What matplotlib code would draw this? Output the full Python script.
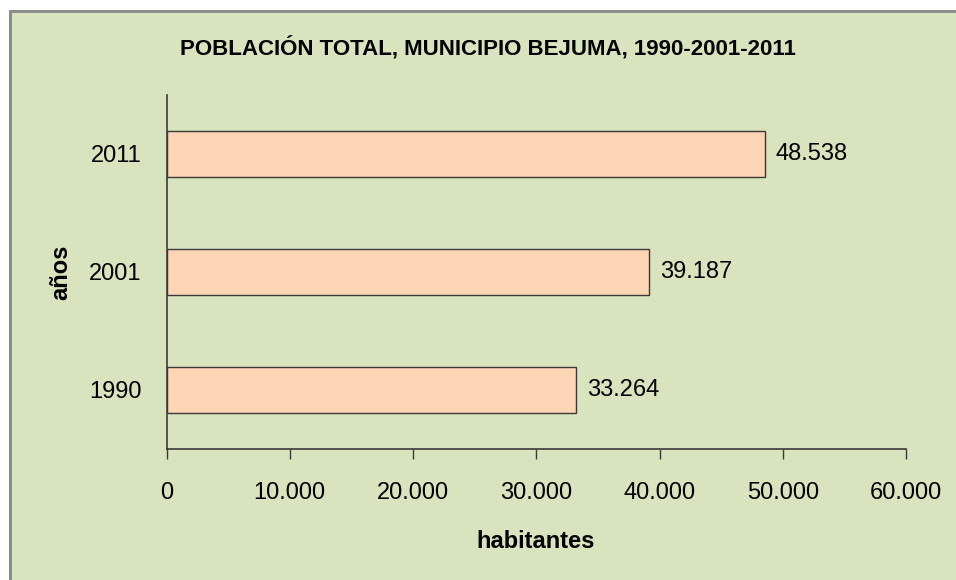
import matplotlib
matplotlib.use("Agg")
import matplotlib.pyplot as plt
from matplotlib import font_manager
from matplotlib.patches import Rectangle

# datos
anios = ["1990", "2001", "2011"]
habitantes = [33264, 39187, 48538]
ticks_x = [0, 10000, 20000, 30000, 40000, 50000, 60000]

nombres = set(f.name for f in font_manager.fontManager.ttflist)
angosta = "Liberation Sans Narrow" in nombres
fuente = "Liberation Sans Narrow" if angosta else "Liberation Sans"
plt.rcParams['font.family'] = [fuente, 'DejaVu Sans']
# sin la fuente angosta se reduce un poco el tamano para conservar el ancho
t_txt = 18 if angosta else 17
t_tit = 18 if angosta else 16

def miles(v):
    return f"{v:,.0f}".replace(",", ".")

verde = "#D7E4BD"
fig = plt.figure(figsize=(9.56, 5.80), dpi=100, facecolor=verde)
W, H = 956, 580

# borde de la imagen (franja blanca arriba e izquierda + linea gris)
fig.patches.append(Rectangle((0, 1 - 10 / H), 1, 10 / H, transform=fig.transFigure,
                             facecolor="white", edgecolor="none", zorder=0))
fig.patches.append(Rectangle((0, 0), 9 / W, 1, transform=fig.transFigure,
                             facecolor="white", edgecolor="none", zorder=0))
fig.patches.append(Rectangle((9 / W, 1 - 12.5 / H), 1, 2.5 / H, transform=fig.transFigure,
                             facecolor="#8C8C8C", edgecolor="none", zorder=1))
fig.patches.append(Rectangle((9 / W, 0), 2.5 / W, 1 - 10 / H, transform=fig.transFigure,
                             facecolor="#8C8C8C", edgecolor="none", zorder=1))

ax = fig.add_axes([166.5 / W, 1 - 449 / H, (906 - 166.5) / W, (449 - 95) / H])
ax.set_facecolor(verde)

pos = range(len(anios))
ax.barh(pos, habitantes, height=0.39, color="#FCD5B5", edgecolor="#3a3a3a", linewidth=1)
for p, v in zip(pos, habitantes):
    ax.text(v + 900, p, miles(v), va="center", ha="left", fontsize=t_txt)

ax.set_xlim(0, 60000)
ax.set_ylim(-0.5, 2.5)
ax.set_xticks(ticks_x)
ax.set_xticklabels([miles(t) for t in ticks_x], fontsize=t_txt)
ax.set_yticks(list(pos))
ax.set_yticklabels(anios, fontsize=t_txt)
ax.tick_params(axis="y", length=0, pad=18)
ax.tick_params(axis="x", length=7, width=1, color="#3a3a3a", pad=17)

for s in ["top", "right"]:
    ax.spines[s].set_visible(False)
for s in ["left", "bottom"]:
    ax.spines[s].set_color("#3a3a3a")
    ax.spines[s].set_linewidth(1.2)

fig.text(488 / W, 1 - 48 / H, "POBLACIÓN TOTAL, MUNICIPIO BEJUMA, 1990-2001-2011",
         ha="center", va="center", fontsize=t_tit, fontweight="bold")
fig.text(536 / W, 1 - 541 / H, "habitantes", ha="center", va="center",
         fontsize=t_txt, fontweight="bold")
fig.text(61 / W, 1 - 272 / H, "años", ha="center", va="center", rotation=90,
         fontsize=t_txt, fontweight="bold")

fig.savefig("out.png", dpi=100, facecolor=verde)
